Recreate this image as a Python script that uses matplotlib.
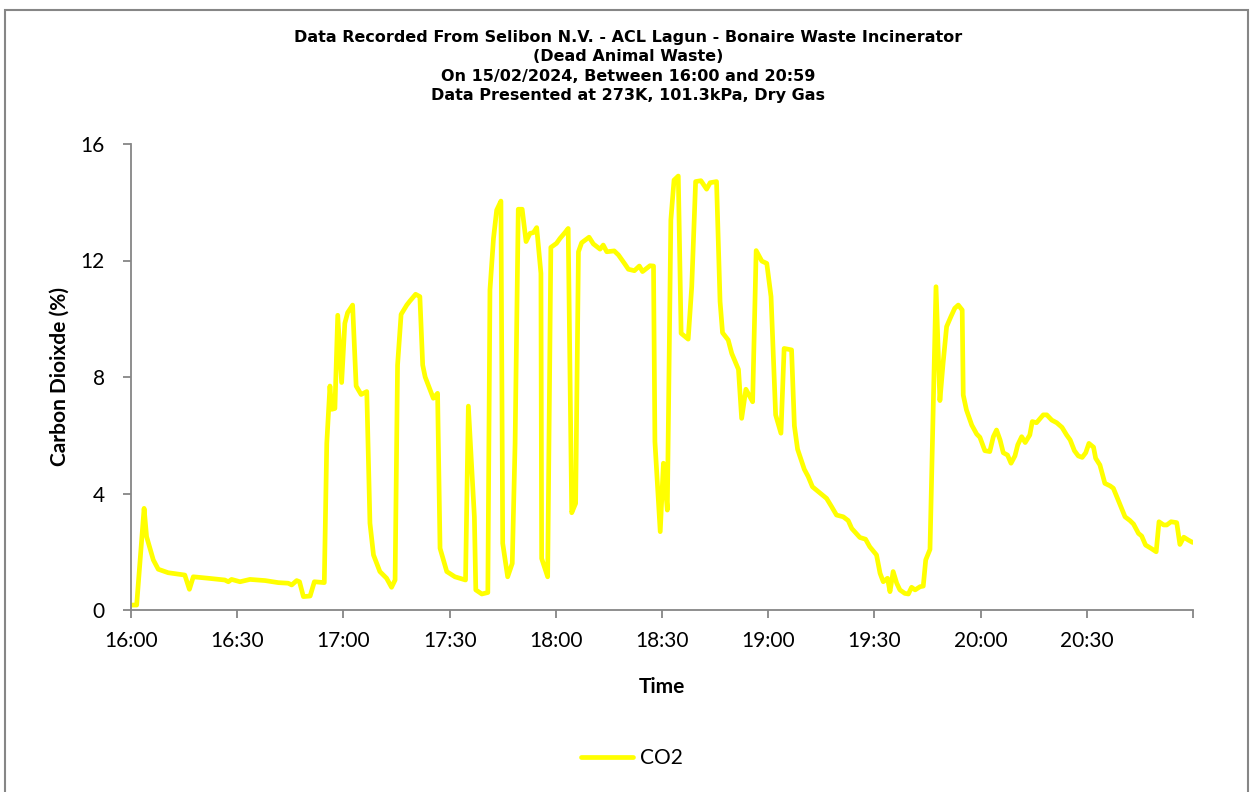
import matplotlib.pyplot as plt
from matplotlib.patches import Rectangle

# minutes after 16:00 and CO2 (%)
minutes = [0.2, 1.6, 2.5, 3.7, 4.4, 6.3, 7.7, 10.5, 15.2, 16.5, 17.6, 21.8, 26.5, 27.5, 28.4,
           30.8, 33.6, 37.9, 41.6, 44.4, 45.4, 46.8, 47.6, 48.7, 50.6, 51.8, 54.6, 55.3,
           56.2, 56.7, 57.6, 58.4, 59.5, 60.4, 61.2, 62.6, 63.6, 65.0, 66.6, 67.5, 68.5,
           70.3, 72.2, 73.6, 74.6, 75.3, 76.3, 77.9, 78.8, 80.4, 81.6, 82.4, 83.1, 85.4,
           86.6, 87.3, 89.2, 91.5, 94.5, 95.3, 97.0, 97.4, 99.1, 100.8, 101.4, 102.4,
           103.3, 104.5, 105.0, 106.4, 107.7, 108.5, 109.4, 110.5, 111.6, 112.7, 113.7,
           114.6, 115.8, 116.0, 117.7, 118.6, 120.2, 121.2, 122.6, 123.5, 124.5, 125.6,
           126.4, 127.3, 129.4, 130.6, 132.5, 133.4, 134.4, 136.5, 137.7, 139.5, 140.5,
           142.2, 143.6, 144.5, 146.6, 147.6, 148.0, 149.5, 150.4, 151.5, 152.5, 153.4,
           154.6, 155.4, 157.4, 158.4, 159.5, 161.0, 162.6, 163.6, 165.4, 166.4, 167.1,
           168.7, 169.7, 171.6, 172.5, 173.7, 175.6, 176.6, 178.2, 179.6, 180.8, 182.1,
           183.6, 184.5, 186.6, 187.4, 188.3, 190.2, 191.3, 192.5, 194.2, 196.5, 197.9,
           199.3, 201.2, 202.6, 203.6, 205.9, 207.5, 208.7, 210.6, 211.6, 212.5, 213.7,
           214.4, 215.3, 216.3, 217.2, 218.6, 219.6, 220.5, 221.5, 222.9, 223.8, 224.5,
           225.7, 227.4, 228.5, 229.4, 230.4, 231.6, 232.7, 233.7, 234.8, 235.1, 236.0,
           237.5, 238.9, 239.8, 241.2, 242.6, 243.6, 244.5, 245.5, 246.4, 247.6, 248.6,
           249.7, 250.5, 251.6, 252.6, 253.9, 254.6, 255.8, 257.7, 258.7, 260.1, 261.5,
           263.0, 264.3, 265.3, 266.5, 267.6, 268.7, 269.7, 270.6, 271.9, 272.5, 273.7,
           275.1, 276.6, 277.5, 279.4, 280.8, 282.2, 283.2, 284.6, 285.5, 286.6, 288.1,
           289.6, 290.4, 291.7, 292.6, 293.8, 295.4, 296.3, 297.4, 298.7, 299.9]
co2 = [0.17, 0.17, 1.60, 3.49, 2.52, 1.72, 1.40, 1.28, 1.20, 0.71, 1.14, 1.09, 1.03, 0.97, 1.05,
       0.97, 1.05, 1.01, 0.94, 0.92, 0.86, 1.01, 0.97, 0.46, 0.48, 0.97, 0.94, 5.72,
       7.69, 6.89, 6.92, 10.12, 7.81, 9.84, 10.21, 10.47, 7.69, 7.40, 7.50, 2.98, 1.89,
       1.32, 1.09, 0.78, 1.03, 8.41, 10.15, 10.47, 10.61, 10.84, 10.76, 8.41, 8.0, 7.27,
       7.44, 2.12, 1.32, 1.14, 1.03, 7.00, 3.20, 0.69, 0.55, 0.60, 10.99, 12.76,
       13.73, 14.04, 2.29, 1.14, 1.60, 5.72, 13.76, 13.76, 12.65, 12.93, 12.96,
       13.13, 11.56, 1.77, 1.14, 12.45, 12.59, 12.76, 12.96, 13.10, 3.34, 3.66,
       12.30, 12.61, 12.80, 12.57, 12.39, 12.53, 12.30, 12.33, 12.19, 11.88, 11.70,
       11.65, 11.81, 11.62, 11.82, 11.81, 5.78, 2.69, 5.04, 3.43, 13.39, 14.76,
       14.90, 9.50, 9.30, 11.10, 14.71, 14.74, 14.45, 14.67, 14.71, 10.59, 9.52,
       9.27, 8.81, 8.26, 6.58, 7.58, 7.15, 12.34, 11.98, 11.90, 10.76, 6.70,
       6.07, 8.98, 8.93, 6.32, 5.52, 4.83, 4.58, 4.23, 4.06, 3.83, 3.55,
       3.26, 3.20, 3.07, 2.80, 2.49, 2.43, 2.17, 1.89, 1.26, 0.97, 1.09,
       0.63, 1.32, 0.92, 0.69, 0.57, 0.55, 0.78, 0.69, 0.80, 0.82, 1.72,
       2.08, 11.10, 7.19, 8.47, 9.73, 10.07, 10.36, 10.47, 10.30, 7.38, 6.87,
       6.35, 6.04, 5.93, 5.47, 5.44, 5.95, 6.18, 5.84, 5.40, 5.32, 5.04,
       5.29, 5.67, 5.95, 5.75, 6.01, 6.47, 6.43, 6.70, 6.70, 6.52, 6.43,
       6.27, 6.01, 5.84, 5.47, 5.29, 5.24, 5.40, 5.72, 5.59, 5.21, 4.98,
       4.35, 4.26, 4.18, 3.61, 3.20, 3.07, 2.95, 2.63, 2.54, 2.23, 2.12,
       2.00, 3.03, 2.92, 2.92, 3.03, 3.00, 2.25, 2.50, 2.40, 2.32]

tick_minutes = [0, 30, 60, 90, 120, 150, 180, 210, 240, 270, 300]
tick_labels = ["16:00", "16:30", "17:00", "17:30", "18:00", "18:30",
               "19:00", "19:30", "20:00", "20:30", ""]

title = ("Data Recorded From Selibon N.V. - ACL Lagun - Bonaire Waste Incinerator\n"
         "(Dead Animal Waste)\n"
         "On 15/02/2024, Between 16:00 and 20:59\n"
         "Data Presented at 273K, 101.3kPa, Dry Gas")

plt.rcParams['font.family'] = ['Lato', 'DejaVu Sans']
grey = "#868686"

fig = plt.figure(figsize=(12.52, 7.92), dpi=100)
fig.patches.append(Rectangle((5 / 1252, -0.05), 1243 / 1252, 1.05 - 10 / 792,
                             transform=fig.transFigure, fill=False,
                             edgecolor=grey, linewidth=1.5))

ax = fig.add_axes([131 / 1252, 1 - 610 / 792, 1062 / 1252, 466 / 792])
ax.plot(minutes, co2, color="#FFFF00", linewidth=3.4, label="CO2",
        solid_joinstyle="round", solid_capstyle="round")

ax.set_xlim(0, 300)
ax.set_ylim(0, 16)
ax.set_yticks([0, 4, 8, 12, 16])
ax.set_xticks(tick_minutes)
ax.set_xticklabels(tick_labels)
for side in ["top", "right"]:
    ax.spines[side].set_visible(False)
for side in ["left", "bottom"]:
    ax.spines[side].set_color(grey)
    ax.spines[side].set_linewidth(1.3)
ax.tick_params(axis="both", direction="out", length=6, width=1.3, color=grey,
               labelsize=15)
ax.tick_params(axis="y", pad=13)
ax.tick_params(axis="x", pad=9)
ax.set_xlabel("Time", fontsize=15, fontweight="bold", labelpad=19)
ax.set_ylabel("Carbon Dioixde (%)", fontsize=15, fontweight="bold", labelpad=8)

fig.text(628 / 1252, 1 - 30 / 792, title, ha="center", va="top",
         fontsize=11.5, fontweight="bold", family="DejaVu Sans",
         linespacing=1.37)

ax.legend(loc="center", bbox_to_anchor=(632 / 1252, 1 - 758 / 792),
          bbox_transform=fig.transFigure, frameon=False, fontsize=15,
          handlelength=2.5, handletextpad=0.3)

fig.savefig("out.png", dpi=100)
